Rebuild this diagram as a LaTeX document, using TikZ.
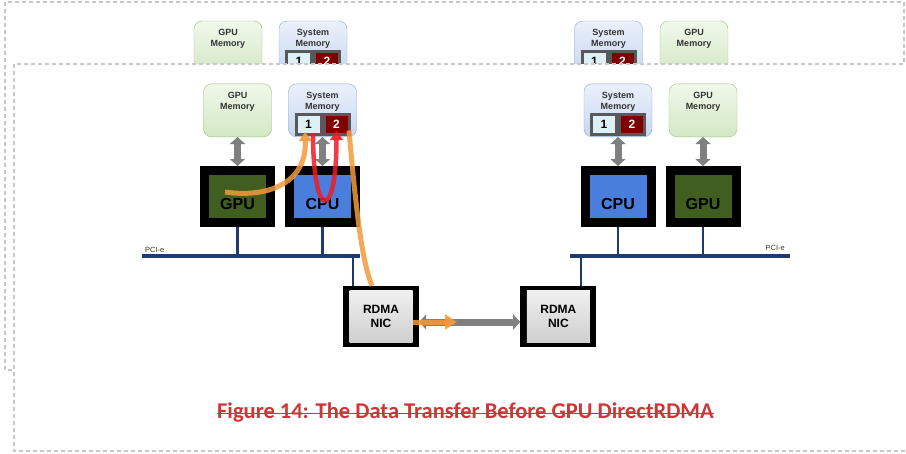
\documentclass[tikz,border=0pt]{standalone}
\usepackage{fontspec}
\setmainfont{Liberation Sans}
\newfontfamily\captionfont{Carlito}
\usepackage{tikz}
\usetikzlibrary{arrows.meta,positioning}

\definecolor{memgreentop}{HTML}{F1F8EB}
\definecolor{memgreenbot}{HTML}{D3E8C4}
\definecolor{memgreenline}{HTML}{9CC27C}
\definecolor{sysbluetop}{HTML}{EBF1FB}
\definecolor{sysbluebot}{HTML}{C6D6F0}
\definecolor{sysblueline}{HTML}{8FAADC}
\definecolor{gpugreen}{HTML}{3F5E20}
\definecolor{cpublue}{HTML}{4A7EDC}
\definecolor{busblue}{HTML}{1F3A6E}
\definecolor{cellgray}{HTML}{595959}
\definecolor{cellcyan}{HTML}{DDF0F5}
\definecolor{cellred}{HTML}{800000}
\definecolor{arrowgray}{HTML}{808080}
\definecolor{flowred}{HTML}{EE1C25}
\definecolor{floworange}{HTML}{F39A3B}
\definecolor{captionred}{HTML}{D13438}
\definecolor{framegray}{HTML}{C8C8C8}

\begin{document}
\begin{tikzpicture}[x=1pt, y=-1pt,
gpumem/.style={rectangle, rounded corners=8pt, draw=memgreenline, top color=memgreentop, bottom color=memgreenbot, minimum width=68pt, minimum height=53pt, inner sep=0pt},
sysmem/.style={gpumem, draw=sysblueline, top color=sysbluetop, bottom color=sysbluebot},
memtext/.style={font=\fontsize{9}{11.5}\selectfont\bfseries, align=center, text=black!80, inner sep=0pt, anchor=north, yshift=-8pt},
cellone/.style={draw=cellgray, line width=3pt, fill=cellcyan, minimum width=25pt, minimum height=20pt, inner sep=0pt, font=\fontsize{12}{12}\selectfont\bfseries},
celltwo/.style={cellone, fill=cellred, text=white},
chip/.style={draw=black, line width=9pt, minimum width=66pt, minimum height=52pt, inner sep=0pt, font=\fontsize{16}{16}\selectfont\bfseries, text height=26pt, text depth=0pt},
gpuchip/.style={chip, fill=gpugreen},
cpuchip/.style={chip, fill=cpublue},
nicbox/.style={fill=black, minimum width=76pt, minimum height=61pt, inner sep=0pt},
nictext/.style={top color=gray!12, bottom color=gray!38, minimum width=63pt, minimum height=52pt, inner sep=0pt, align=center, font=\fontsize{12}{14}\selectfont\bfseries},
memlink/.style={draw=arrowgray, line width=7pt, {Triangle[width=15pt,length=7pt]}-{Triangle[width=15pt,length=7pt]}},
bus/.style={draw=busblue, line width=4pt},
busdrop/.style={draw=busblue, line width=2.5pt},
flow/.style={draw=floworange, line width=5pt, opacity=.85},
loop/.style={draw=flowred, line width=4.5pt, opacity=.85},
frame/.style={draw=framegray, dashed, dash pattern=on 4pt off 3pt, line width=1.2pt},
]
\useasboundingbox (0,0) rectangle (906,453);
\clip (0,0) rectangle (906,453);

%Back copy
\draw[frame] (5,2) rectangle (904,370);
\node[gpumem, label={[memtext]north:GPU\\Memory}] (bgpumemL) at (228,47.5) {};
\node[sysmem, label={[memtext]north:System\\Memory}] (bsysmemL) at (313,47.5) {};
\node[cellone, anchor=south east] (boneL) at ([yshift=1pt]bsysmemL.south) {1};
\node[celltwo, anchor=south west] (btwoL) at ([yshift=1pt]bsysmemL.south) {2};
\node[sysmem, label={[memtext]north:System\\Memory}] (bsysmemR) at (608.5,47.5) {};
\node[cellone, anchor=south east] (boneR) at ([yshift=1pt]bsysmemR.south) {1};
\node[celltwo, anchor=south west] (btwoR) at ([yshift=1pt]bsysmemR.south) {2};
\node[gpumem, label={[memtext]north:GPU\\Memory}] (bgpumemR) at (694,47.5) {};
\draw[frame, fill=white] (14,64) rectangle (915,451);

%Nodes
\node[gpuchip] (gpuL) at (237.5,196.5) {GPU};
\node[cpuchip] (cpuL) [right=10pt of gpuL] {CPU};
\node[gpumem, label={[memtext]north:GPU\\Memory}] (gpumemL) [above=29pt of gpuL] {};
\node[sysmem, label={[memtext]north:System\\Memory}] (sysmemL) [above=29pt of cpuL] {};
\node[cellone, anchor=south east] (oneL) at ([yshift=1pt]sysmemL.south) {1};
\node[celltwo, anchor=south west] (twoL) at ([yshift=1pt]sysmemL.south) {2};

\node[cpuchip] (cpuR) at (618,196.5) {CPU};
\node[gpuchip] (gpuR) [right=10pt of cpuR] {GPU};
\node[sysmem, label={[memtext]north:System\\Memory}] (sysmemR) [above=29pt of cpuR] {};
\node[cellone, anchor=south east] (oneR) at ([yshift=1pt]sysmemR.south) {1};
\node[celltwo, anchor=south west] (twoR) at ([yshift=1pt]sysmemR.south) {2};
\node[gpumem, label={[memtext]north:GPU\\Memory}] (gpumemR) [above=29pt of gpuR] {};

\node[nicbox] (nicL) at (381,316.5) {};
\node[nictext] (nicLtxt) at (nicL) {RDMA\\NIC};
\node[nicbox] (nicR) [right=101pt of nicL] {};
\node[nictext] (nicRtxt) at (nicR) {RDMA\\NIC};

\coordinate (busLw) at (142,256);
\coordinate (busLe) at (360,256);
\coordinate (busRw) at (570,256);
\coordinate (busRe) at (790,256);
\node[anchor=south west, inner sep=1pt, font=\fontsize{7.5}{8}\selectfont, text=black!80] (pcieL) at ([xshift=2pt, yshift=2pt]busLw) {PCI-e};
\node[anchor=south east, inner sep=1pt, font=\fontsize{7.5}{8}\selectfont, text=black!80] (pcieR) at ([xshift=-4pt, yshift=4pt]busRe) {PCI-e};

\node[anchor=base, inner xsep=0pt, text=captionred, font=\captionfont\fontsize{22.5}{24}\selectfont\bfseries] (caption) at (465.5,418) {Figure 14: The Data Transfer Before GPU DirectRDMA};

%Lines
\draw[bus] (busLw) -- (busLe);
\draw[bus] (busRw) -- (busRe);
\draw[busdrop] (gpuL.south) -- (gpuL.south |- busLw);
\draw[busdrop] (cpuL.south) -- (cpuL.south |- busLw);
\draw[busdrop] ([xshift=-28pt]nicL.north) -- ([xshift=-28pt]nicL.north |- busLe);
\draw[busdrop] (cpuR.south) -- (cpuR.south |- busRw);
\draw[busdrop] (gpuR.south) -- (gpuR.south |- busRw);
\draw[busdrop] ([xshift=22.5pt]nicR.north) -- ([xshift=22.5pt]nicR.north |- busRw);

\draw[memlink] (gpumemL.south) -- (gpuL.north);
\draw[memlink] (sysmemL.south) -- (cpuL.north);
\draw[memlink] (sysmemR.south) -- (cpuR.north);
\draw[memlink] (gpumemR.south) -- (gpuR.north);
\draw[memlink] ([yshift=-5.5pt]nicL.east) -- ([yshift=-5.5pt]nicR.west);

%Data path
\coordinate (sendtip) at (457,322);
\draw[flow, -{Triangle[width=15pt,length=12pt]}] ([xshift=-6pt, yshift=-5.5pt]nicL.east) -- (sendtip);
\draw[flow, -{Triangle[width=13pt,length=9pt]}] ([xshift=-12.5pt, yshift=4.5pt]gpuL.center) .. controls (265,198) and (307,185) .. ([xshift=-3.5pt, yshift=4pt]oneL.south);
\draw[loop, -{Triangle[width=13pt,length=9pt]}] ([xshift=4.5pt, yshift=3pt]oneL.south) .. controls (313,222) and (336.5,222) .. ([yshift=5pt]twoL.south);
\draw[flow] ([xshift=-1.5pt, yshift=-6pt]twoL.east) .. controls (356,210) and (362,262) .. ([xshift=-9pt]nicL.north);

\draw[captionred, line width=1.6pt] ([yshift=4.5pt]caption.base west) -- ([yshift=4.5pt]caption.base east);
\end{tikzpicture}
\end{document}
